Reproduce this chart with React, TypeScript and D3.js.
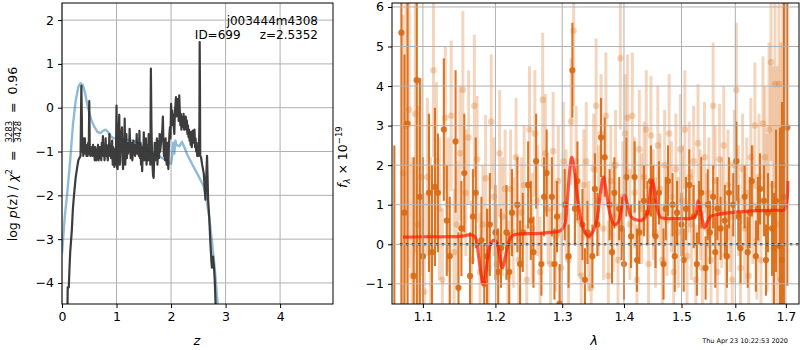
import React, { useEffect, useRef } from "react";
import * as d3 from "d3";

type Pt = [number, number];
type Bar = [number, number, number];

// p(z): [z, log p]
const pzDark: Pt[] = [
  [0.10, -4.6], [0.105, -4.1], [0.125, -4.1], [0.13, -3.9], [0.15, -3.3], [0.18, -2.8], [0.20, -2.3],
  [0.22, -2.0], [0.25, -1.6], [0.28, -1.35], [0.30, -1.2], [0.32, -1.15], [0.34, -1.1], [0.355, 0.5],
  [0.365, -0.3], [0.37, -1.0], [0.38, -0.7], [0.39, -1.1], [0.40, -0.7], [0.41, -0.95], [0.42, -0.7],
  [0.43, -1.05], [0.44, -0.85], [0.45, -1.1], [0.46, -0.95], [0.47, -1.1], [0.48, -0.8], [0.49, -1.05],
  [0.50, 0.15], [0.51, -1.0], [0.52, -1.1], [0.53, -0.9], [0.54, -1.05], [0.55, -1.0], [0.56, -1.1],
  [0.57, -0.85], [0.58, -1.05], [0.59, -0.95], [0.60, -1.2], [0.61, -0.9], [0.62, -1.05], [0.63, -1.2],
  [0.64, -0.95], [0.65, -1.1], [0.66, -0.85], [0.67, -1.2], [0.68, -1.05], [0.69, -0.9], [0.70, -1.15],
  [0.71, -1.0], [0.72, -1.2], [0.73, -0.8], [0.74, -1.0], [0.75, -0.65], [0.76, -1.1], [0.77, -0.9],
  [0.78, -1.2], [0.79, -1.0], [0.80, -0.7], [0.81, -1.1], [0.82, -0.85], [0.83, -1.05], [0.84, -1.2],
  [0.85, -0.9], [0.86, -1.0], [0.87, -0.6], [0.88, -1.1], [0.89, -0.9], [0.90, -1.15], [0.91, -1.0],
  [0.92, -0.75], [0.93, -1.3], [0.94, -0.9], [0.95, -1.15], [0.96, -1.35], [0.97, -0.95], [0.98, -1.3],
  [0.99, -1.0], [1.00, 0.05], [1.01, -1.35], [1.02, -1.4], [1.03, -0.9], [1.05, -0.16], [1.06, -1.3],
  [1.07, -0.8], [1.08, -1.0], [1.09, -0.6], [1.10, -0.45], [1.11, -1.2], [1.12, -1.4], [1.13, -0.9],
  [1.14, -1.1], [1.15, -0.25], [1.16, -1.3], [1.17, -0.9], [1.18, -0.6], [1.19, -1.15], [1.20, -0.8],
  [1.21, -1.05], [1.22, -0.85], [1.23, -1.0], [1.24, -0.48], [1.25, -0.9], [1.26, -1.15], [1.27, -1.0],
  [1.28, -0.8], [1.29, -1.2], [1.30, -1.0], [1.31, -0.75], [1.32, -1.0], [1.33, -0.85], [1.34, -1.1],
  [1.35, -0.9], [1.36, -0.95], [1.37, -0.6], [1.38, -1.05], [1.39, -0.8], [1.40, -0.9], [1.41, -1.1],
  [1.42, -0.53], [1.43, -1.15], [1.44, -0.8], [1.45, -1.3], [1.46, -0.9], [1.47, -1.45], [1.48, -1.0],
  [1.49, -1.2], [1.50, -0.56], [1.51, -1.2], [1.52, -0.9], [1.53, -1.15], [1.54, -0.7], [1.55, -1.3],
  [1.56, -1.0], [1.57, -0.85], [1.58, -1.2], [1.59, -0.6], [1.60, -1.1], [1.61, -0.9], [1.62, -1.3],
  [1.63, 0.89], [1.64, -0.4], [1.65, -1.0], [1.66, -1.3], [1.67, -1.55], [1.68, -1.6], [1.69, -1.2],
  [1.70, -0.8], [1.71, -1.2], [1.72, -0.9], [1.73, -1.1], [1.74, -0.7], [1.75, -1.3], [1.76, -0.95],
  [1.77, -0.75], [1.78, -1.15], [1.79, -0.6], [1.80, -1.0], [1.82, -0.74], [1.84, -0.5], [1.85, -0.2],
  [1.86, -0.8], [1.87, -1.1], [1.88, -0.9], [1.89, -1.2], [1.90, -0.7], [1.91, -1.0], [1.92, -1.3],
  [1.93, -0.8], [1.94, -1.05], [1.95, -1.4], [1.96, -0.9], [1.97, -0.6], [1.98, -0.44], [1.99, -0.7],
  [2.00, 0.09], [2.01, -0.3], [2.02, -0.06], [2.03, -0.4], [2.04, -0.15], [2.05, -0.44], [2.06, -0.6],
  [2.07, -0.1], [2.08, 0.05], [2.09, 0.24], [2.10, -0.2], [2.11, 0.09], [2.12, -0.1], [2.13, 0.2],
  [2.14, -0.3], [2.15, 0.28], [2.16, -0.05], [2.17, -0.4], [2.18, -0.14], [2.19, -0.5], [2.20, -0.2],
  [2.21, -0.44], [2.22, -0.3], [2.23, -0.14], [2.24, -0.5], [2.25, -0.3], [2.26, -0.44], [2.27, -0.2],
  [2.28, -0.5], [2.29, -0.29], [2.30, -0.6], [2.31, -0.4], [2.32, -0.67], [2.33, -0.5], [2.34, -0.75],
  [2.35, -0.6], [2.36, -0.85], [2.37, -0.55], [2.38, -0.9], [2.39, -0.7], [2.40, -0.52], [2.41, -0.8],
  [2.42, -0.67], [2.43, -0.5], [2.44, -0.9], [2.45, -0.7], [2.46, -1.0], [2.47, -0.8], [2.48, -1.1],
  [2.49, -1.0], [2.50, -1.1], [2.51, -1.0], [2.52, -0.4], [2.525, 1.5], [2.53, 0.5], [2.535, -1.1],
  [2.55, -1.13], [2.57, -1.3], [2.60, -1.5], [2.62, -1.9], [2.63, -2.1], [2.645, -1.6], [2.66, -1.1],
  [2.67, -1.6], [2.68, -2.1], [2.70, -2.5], [2.72, -3.05], [2.74, -3.5], [2.75, -3.65], [2.77, -3.4],
  [2.79, -3.7], [2.80, -3.9], [2.82, -4.6],
];

const pzBlue: Pt[] = [
  [0, -3.33], [0.05, -2.5], [0.1, -1.9], [0.15, -1.2], [0.2, -0.4], [0.25, 0.15], [0.3, 0.48],
  [0.34, 0.56], [0.38, 0.52], [0.42, 0.35], [0.46, 0.1], [0.5, -0.12], [0.55, -0.32], [0.6, -0.45],
  [0.65, -0.55], [0.7, -0.58], [0.75, -0.53], [0.8, -0.5], [0.85, -0.56], [0.9, -0.66], [0.95, -0.7],
  [1.0, -0.7], [1.1, -0.71], [1.2, -0.73], [1.3, -0.75], [1.4, -0.8], [1.5, -0.9], [1.6, -0.98],
  [1.7, -1.06], [1.8, -1.12], [1.9, -1.19], [1.98, -1.27], [2.0, -1.28], [2.02, -1.1], [2.04, -0.8],
  [2.06, -1.05], [2.08, -0.75], [2.1, -0.85], [2.15, -0.88], [2.2, -0.78], [2.25, -0.92], [2.3, -1.08],
  [2.4, -1.32], [2.5, -1.55], [2.6, -1.8], [2.65, -2.1], [2.7, -2.5], [2.75, -3.05], [2.8, -3.65],
  [2.85, -4.4], [2.88, -5.0],
];

const xTicksL = [0, 1, 2, 3, 4];
const yTicksL = [-4, -3, -2, -1, 0, 1, 2];

// spectrum: [lambda, flux, err]
const specDark: Bar[] = [
  [1.063, -1.8, 4.3], [1.072, 5.35, 7], [1.076, 0.8, 4], [1.080, 3.05, 7], [1.088, -0.8, 3],
  [1.092, 4.15, 7], [1.096, 1.2, 3], [1.100, -0.3, 2.5], [1.108, 1.3, 2], [1.112, -0.2, 2.2],
  [1.116, 1.45, 2], [1.120, 1.3, 1.5], [1.128, 2.9, 1.8], [1.132, 0.6, 1.4], [1.136, -0.3, 1.5],
  [1.144, 2.6, 1.8], [1.148, -1.1, 1.4], [1.152, 0.4, 1.2], [1.156, 1.8, 1.5], [1.164, -0.8, 1.1],
  [1.168, 0.7, 1.2], [1.172, 1.3, 1.4], [1.180, 0.1, 1.1], [1.184, -1.0, 1.0], [1.188, -0.3, 1.2],
  [1.192, 0.5, 1.3], [1.200, 0.3, 1.2], [1.204, -0.7, 1.1], [1.208, -0.1, 1.0], [1.216, 0.3, 1.2],
  [1.220, -0.7, 1.0], [1.224, 0.8, 1.1], [1.232, 1.0, 1.2], [1.236, -0.5, 1.1], [1.240, 0.3, 1.0],
  [1.248, 1.5, 1.1], [1.252, 0.6, 1.0], [1.256, -0.2, 0.9], [1.260, 2.1, 1.2], [1.268, -0.5, 0.8],
  [1.272, 1.2, 1.0], [1.276, 1.8, 1.1], [1.284, 1.2, 1.0], [1.288, -0.5, 0.9], [1.292, 0.7, 0.9],
  [1.296, -1.5, 1.0], [1.304, 1.0, 0.9], [1.310, -0.3, 0.8], [1.316, 4.4, 1.2], [1.320, 0.9, 0.9],
  [1.324, 1.6, 1.0], [1.332, 0.5, 0.9], [1.336, -0.9, 0.8], [1.340, 0.3, 0.8], [1.348, -0.3, 0.8],
  [1.352, 1.4, 0.9], [1.356, 0.5, 0.8], [1.362, 2.7, 1.0], [1.368, 2.2, 1.0], [1.376, 1.0, 0.9],
  [1.380, -0.2, 0.8], [1.384, 1.3, 0.9], [1.392, 0.9, 0.8], [1.396, 0.4, 0.8], [1.400, -0.5, 0.9],
  [1.404, 1.7, 1.0], [1.412, 0.2, 0.8], [1.418, 1.7, 0.9], [1.422, -0.4, 0.8], [1.426, 0.3, 0.8],
  [1.434, 1.1, 0.9], [1.440, 0.8, 0.8], [1.446, 1.6, 0.9], [1.450, 1.1, 0.9], [1.454, 0.2, 0.8],
  [1.460, 1.3, 0.8], [1.468, -0.5, 0.9], [1.472, 0.9, 0.8], [1.476, 1.6, 0.9], [1.484, 1.0, 0.8],
  [1.488, -0.3, 0.9], [1.492, 0.8, 0.8], [1.500, 0.5, 0.8], [1.504, -0.4, 0.8], [1.508, 0.9, 0.8],
  [1.514, 1.5, 0.9], [1.522, 0.7, 0.8], [1.528, -0.5, 0.8], [1.532, 0.8, 0.8], [1.536, 1.3, 0.9],
  [1.544, -0.6, 0.8], [1.548, 1.0, 0.9], [1.552, 0.3, 0.8], [1.558, 1.2, 0.8], [1.562, -0.2, 0.9],
  [1.566, 0.9, 0.8], [1.572, 0.4, 0.8], [1.580, 0.6, 0.9], [1.584, -0.3, 0.8], [1.588, 1.3, 0.9],
  [1.596, 1.0, 0.8], [1.602, 2.1, 1.0], [1.606, 0.7, 0.8], [1.610, -0.1, 0.9], [1.618, 1.2, 0.8],
  [1.624, -0.2, 0.9], [1.628, 0.8, 0.9], [1.632, 1.6, 0.9], [1.640, -0.3, 0.9], [1.644, 0.9, 0.8],
  [1.648, 1.4, 0.9], [1.656, 1.1, 0.9], [1.660, -0.4, 0.9], [1.664, 0.8, 1.0], [1.672, 0.4, 1.2],
  [1.676, -0.1, 1.4], [1.680, 1.1, 1.8], [1.688, -0.05, 3], [1.692, -0.4, 4], [1.696, 1.2, 5],
  [1.703, 2.95, 4.0],
];

const specLight: Bar[] = [
  [1.074, 1.8, 4], [1.078, 3.0, 4], [1.082, 3.4, 4], [1.086, -0.8, 3], [1.090, 3.3, 3.5],
  [1.094, 0.5, 3], [1.098, 1.7, 2.5], [1.102, -1.2, 2.5], [1.106, 1.7, 2], [1.110, 0.2, 2],
  [1.114, 4.4, 2.2], [1.118, 2.1, 2], [1.122, 0.9, 1.8], [1.126, -0.9, 1.8], [1.130, 3.2, 1.8],
  [1.134, 1.0, 1.7], [1.138, 3.25, 1.9], [1.142, -0.2, 1.6], [1.146, 0.5, 1.6], [1.150, 2.3, 1.7],
  [1.154, 3.9, 2], [1.158, 1.3, 1.6], [1.162, 2.7, 1.7], [1.166, -0.4, 1.5], [1.170, 3.5, 1.8],
  [1.174, 2.15, 1.6], [1.178, -0.7, 1.5], [1.182, 0.5, 1.5], [1.186, 1.67, 1.6], [1.190, -0.6, 1.5],
  [1.194, 3.1, 1.7], [1.198, 1.2, 1.5], [1.202, -0.5, 1.5], [1.206, 2.3, 1.6], [1.210, 0.7, 1.5],
  [1.214, 1.4, 1.5], [1.218, -0.8, 1.4], [1.222, 1.4, 1.5], [1.226, 0.3, 1.4], [1.230, 2.2, 1.5],
  [1.234, -0.4, 1.4], [1.238, 0.8, 1.4], [1.242, 1.5, 1.5], [1.246, -0.9, 1.4], [1.250, 2.9, 1.6],
  [1.254, 0.4, 1.4], [1.258, 2.8, 1.6], [1.262, 1.1, 1.4], [1.266, -0.7, 1.4], [1.270, 3.65, 1.7],
  [1.274, 2.3, 1.5], [1.278, 0.9, 1.4], [1.282, -0.5, 1.4], [1.286, 2.35, 1.5], [1.290, 0.2, 1.4],
  [1.294, 1.6, 1.4], [1.298, -0.6, 1.4], [1.302, 2.1, 1.5], [1.306, 1.0, 1.4], [1.310, -0.4, 1.3],
  [1.314, 3.1, 1.6], [1.318, 5.4, 1.9], [1.322, 2.1, 1.4], [1.326, 0.6, 1.4], [1.330, -0.8, 1.4],
  [1.334, 1.5, 1.4], [1.338, 2.1, 1.5], [1.342, 0.2, 1.4], [1.346, -1.1, 1.4], [1.350, 1.9, 1.4],
  [1.354, 3.5, 1.7], [1.358, 1.1, 1.4], [1.362, 2.8, 1.5], [1.366, 0.4, 1.3], [1.370, 3.25, 1.6],
  [1.374, -0.8, 1.4], [1.378, 1.6, 1.4], [1.382, 0.7, 1.4], [1.386, 2.0, 1.4], [1.390, -0.4, 1.4],
  [1.394, 4.7, 1.8], [1.398, 1.2, 1.4], [1.402, 2.8, 1.5], [1.406, 3.2, 1.6], [1.410, 0.5, 1.4],
  [1.414, 3.25, 1.6], [1.418, 1.3, 1.4], [1.422, -0.9, 1.4], [1.426, 2.4, 1.5], [1.430, 0.9, 1.4],
  [1.434, 1.7, 1.4], [1.438, 2.9, 1.5], [1.442, -0.5, 1.4], [1.446, 2.75, 1.5], [1.450, 1.0, 1.4],
  [1.454, 0.3, 1.4], [1.458, 2.5, 1.5], [1.462, 1.4, 1.4], [1.466, -0.4, 1.4], [1.470, 2.0, 1.4],
  [1.474, 0.6, 1.4], [1.478, 2.8, 1.5], [1.482, 1.2, 1.4], [1.486, -0.7, 1.4], [1.490, 1.9, 1.4],
  [1.494, 0.3, 1.4], [1.498, 2.4, 1.4], [1.502, 1.1, 1.4], [1.506, 2.9, 1.5], [1.510, -0.3, 1.4],
  [1.514, 1.7, 1.4], [1.518, 0.5, 1.4], [1.522, 2.1, 1.4], [1.526, -0.9, 1.4], [1.530, 2.55, 1.5],
  [1.534, 1.0, 1.4], [1.538, -0.6, 1.4], [1.542, 2.2, 1.4], [1.546, 0.4, 1.4], [1.550, 1.3, 1.4],
  [1.554, -0.4, 1.4], [1.558, 3.5, 1.6], [1.562, 1.6, 1.4], [1.566, -0.7, 1.4], [1.570, 2.15, 1.4],
  [1.574, 0.8, 1.4], [1.578, 2.5, 1.5], [1.582, -0.3, 1.4], [1.586, 1.5, 1.4], [1.590, 0.7, 1.4],
  [1.594, -0.9, 1.4], [1.598, 2.0, 1.4], [1.602, 3.9, 1.7], [1.606, 1.1, 1.4], [1.610, -0.6, 1.4],
  [1.614, 1.9, 1.4], [1.618, 0.4, 1.4], [1.622, 1.3, 1.4], [1.626, -0.8, 1.4], [1.630, 2.2, 1.5],
  [1.634, 1.0, 1.5], [1.638, 3.0, 1.6], [1.642, 0.1, 1.5], [1.646, 1.7, 1.6], [1.650, -0.4, 1.6],
  [1.654, 3.05, 1.7], [1.658, 2.2, 1.8], [1.662, 0.8, 2], [1.666, 2.9, 2.2], [1.670, 4.6, 2.5],
  [1.674, 1.5, 3], [1.678, 4.05, 3.5], [1.682, 0.5, 4], [1.686, 4.05, 5], [1.690, -0.9, 6],
  [1.694, 2.0, 7],
];

// best-fit model: [lambda, flux]
const modelFit: Pt[] = [
  [1.074, 0.18], [1.10, 0.19], [1.13, 0.19], [1.15, 0.2], [1.16, 0.23], [1.166, 0.24], [1.172, 0.15],
  [1.176, -0.3], [1.18, -0.8], [1.183, -1.0], [1.187, -0.6], [1.192, -0.05], [1.197, 0.1], [1.202, 0.05],
  [1.206, -0.3], [1.21, -0.6], [1.214, -0.35], [1.219, 0.05], [1.225, 0.22], [1.235, 0.26], [1.26, 0.27],
  [1.28, 0.3], [1.298, 0.35], [1.304, 0.5], [1.308, 1.1], [1.312, 1.9], [1.315, 2.2], [1.319, 1.9],
  [1.324, 1.2], [1.33, 0.6], [1.336, 0.3], [1.342, 0.2], [1.348, 0.3], [1.355, 0.6], [1.361, 1.3],
  [1.366, 1.7], [1.371, 1.3], [1.377, 0.75], [1.384, 0.5], [1.39, 0.55], [1.396, 0.9], [1.401, 1.25],
  [1.406, 1.0], [1.412, 0.7], [1.42, 0.62], [1.432, 0.62], [1.44, 0.8], [1.444, 1.2], [1.448, 1.62],
  [1.452, 1.4], [1.457, 0.9], [1.463, 0.68], [1.475, 0.65], [1.5, 0.65], [1.52, 0.66], [1.526, 0.75],
  [1.53, 1.1], [1.534, 0.9], [1.539, 0.55], [1.542, 0.42], [1.547, 0.55], [1.553, 0.7], [1.565, 0.75],
  [1.59, 0.8], [1.62, 0.83], [1.65, 0.85], [1.68, 0.86], [1.697, 0.87], [1.702, 1.1], [1.704, 1.6],
];

const xTicksR = [1.1, 1.2, 1.3, 1.4, 1.5, 1.6, 1.7];
const yTicksR = [-1, 0, 1, 2, 3, 4, 5, 6];

const FONT = "DejaVu Sans, sans-serif";
const ORANGE = "#d96a14";

const App = () => {
  const ref = useRef<SVGSVGElement>(null);

  useEffect(() => {
    const svg = d3.select(ref.current);
    svg.selectAll("*").remove();
    svg.attr("font-family", FONT);

    const defs = svg.append("defs");
    defs.append("clipPath").attr("id", "clipL").append("rect")
      .attr("x", 62).attr("y", 3).attr("width", 271).attr("height", 301);
    defs.append("clipPath").attr("id", "clipR").append("rect")
      .attr("x", 392).attr("y", 3).attr("width", 407).attr("height", 301);

    // ---------- left: p(z)
    const xL = d3.scaleLinear().domain([0, 4.97]).range([62, 333]);
    const yL = d3.scaleLinear().domain([-4.48, 2.39]).range([304, 3]);

    const gL = svg.append("g");
    gL.selectAll("line.gx").data(xTicksL).join("line")
      .attr("x1", d => xL(d)).attr("x2", d => xL(d)).attr("y1", 3).attr("y2", 304)
      .attr("stroke", "#b0b0b0").attr("stroke-width", 1);
    gL.selectAll("line.gy").data(yTicksL).join("line")
      .attr("x1", 62).attr("x2", 333).attr("y1", d => yL(d)).attr("y2", d => yL(d))
      .attr("stroke", "#b0b0b0").attr("stroke-width", 1);

    const lineL = d3.line<Pt>().x(d => xL(d[0])).y(d => yL(d[1]));
    gL.append("path").datum(pzBlue).attr("d", lineL).attr("clip-path", "url(#clipL)")
      .attr("fill", "none").attr("stroke", "#1f77b4").attr("stroke-opacity", 0.5)
      .attr("stroke-width", 2.4).attr("stroke-linejoin", "round");
    gL.append("path").datum(pzDark).attr("d", lineL).attr("clip-path", "url(#clipL)")
      .attr("fill", "none").attr("stroke", "#333").attr("stroke-opacity", 0.95)
      .attr("stroke-width", 2.2).attr("stroke-linejoin", "round");

    const axL = gL.append("g").attr("transform", "translate(0,304)")
      .call(d3.axisBottom(xL).tickValues(xTicksL).tickSize(4).tickPadding(4).tickFormat(d3.format("d")));
    const ayL = gL.append("g").attr("transform", "translate(62,0)")
      .call(d3.axisLeft(yL).tickValues(yTicksL).tickSize(4).tickPadding(4).tickFormat(d3.format("d")));
    [axL, ayL].forEach(a => {
      a.select(".domain").remove();
      a.attr("font-size", 12.5).attr("font-family", FONT);
      a.selectAll("text").attr("fill", "#000");
    });
    gL.append("rect").attr("x", 62).attr("y", 3).attr("width", 271).attr("height", 301)
      .attr("fill", "none").attr("stroke", "#000").attr("stroke-width", 1);

    gL.append("text").attr("x", 318).attr("y", 25).attr("text-anchor", "end")
      .attr("font-size", 12).text("j003444m4308");
    gL.append("text").attr("x", 318).attr("y", 39).attr("text-anchor", "end")
      .attr("font-size", 12).style("white-space", "pre").text("ID=699     z=2.5352");

    gL.append("text").attr("x", 197).attr("y", 345).attr("text-anchor", "middle")
      .attr("font-size", 13).attr("font-style", "italic").text("z");

    // y label with stacked fraction
    const lab = gL.append("g").attr("transform", "translate(17,0) rotate(-90)");
    const t = lab.append("text").attr("x", -154).attr("y", 0).attr("text-anchor", "middle")
      .attr("font-size", 12.5).style("white-space", "pre");
    t.append("tspan").text("log ");
    t.append("tspan").attr("font-style", "italic").text("p");
    t.append("tspan").text("(z) / ");
    t.append("tspan").attr("font-style", "italic").text("χ");
    t.append("tspan").attr("font-size", 8.5).attr("dy", -5).text("2");
    t.append("tspan").attr("dy", 5).text("  =  ");
    const num = t.append("tspan").attr("font-size", 8.5).attr("dy", -5).text("3283");
    const den = t.append("tspan").attr("font-size", 8.5).attr("dy", 9).text("3428");
    t.append("tspan").attr("dy", -4).text("  =  0.96");
    const numNode = num.node() as SVGTSpanElement;
    const nLen = numNode.getComputedTextLength();
    den.attr("dx", -nLen);
    const nStart = numNode.getStartPositionOfChar(0).x;
    lab.append("line").attr("x1", nStart).attr("x2", nStart + nLen)
      .attr("y1", -3.6).attr("y2", -3.6).attr("stroke", "#000").attr("stroke-width", 0.8);

    // ---------- right: spectrum
    const xR = d3.scaleLog().domain([1.06, 1.727]).range([392, 799]);
    const yR = d3.scaleLinear().domain([-1.51, 6.1]).range([304, 3]);
    const gR = svg.append("g");
    const data = gR.append("g").attr("clip-path", "url(#clipR)");

    const drawBars = (rows: Bar[], w: number, r: number, op: number) => {
      const g = data.append("g");
      g.selectAll("line").data(rows).join("line")
        .attr("x1", d => xR(d[0])).attr("x2", d => xR(d[0]))
        .attr("y1", d => yR(d[1] - d[2])).attr("y2", d => yR(d[1] + d[2]))
        .attr("stroke", ORANGE).attr("stroke-width", w).attr("stroke-opacity", op);
      g.selectAll("circle").data(rows).join("circle")
        .attr("cx", d => xR(d[0])).attr("cy", d => yR(d[1])).attr("r", r)
        .attr("fill", ORANGE).attr("fill-opacity", op);
    };
    drawBars(specLight, 3, 3.3, 0.28);
    drawBars(specDark, 2.1, 3.1, 0.92);

    const lineR = d3.line<Pt>().x(d => xR(d[0])).y(d => yR(d[1])).curve(d3.curveCatmullRom);
    data.append("path").datum(modelFit).attr("d", lineR)
      .attr("fill", "none").attr("stroke", "#ff1a00").attr("stroke-opacity", 0.72)
      .attr("stroke-width", 3.2).attr("stroke-linejoin", "round");
    data.append("line").attr("x1", xR(1.07)).attr("x2", 799).attr("y1", yR(0)).attr("y2", yR(0))
      .attr("stroke", "#000").attr("stroke-width", 2).attr("stroke-dasharray", "2.5,3.5");

    gR.selectAll("line.gx").data(xTicksR).join("line")
      .attr("x1", d => xR(d)).attr("x2", d => xR(d)).attr("y1", 3).attr("y2", 304)
      .attr("stroke", "#b0b0b0").attr("stroke-width", 1);
    gR.selectAll("line.gy").data(yTicksR).join("line")
      .attr("x1", 392).attr("x2", 799).attr("y1", d => yR(d)).attr("y2", d => yR(d))
      .attr("stroke", "#b0b0b0").attr("stroke-width", 1);

    const axR = gR.append("g").attr("transform", "translate(0,304)")
      .call(d3.axisBottom(xR).tickValues(xTicksR).tickSize(4).tickPadding(4).tickFormat(d3.format(".1f")));
    const ayR = gR.append("g").attr("transform", "translate(392,0)")
      .call(d3.axisLeft(yR).tickValues(yTicksR).tickSize(4).tickPadding(4).tickFormat(d3.format("d")));
    [axR, ayR].forEach(a => {
      a.select(".domain").remove();
      a.attr("font-size", 12.5).attr("font-family", FONT);
      a.selectAll("text").attr("fill", "#000");
    });
    gR.append("rect").attr("x", 392).attr("y", 3).attr("width", 407).attr("height", 301)
      .attr("fill", "none").attr("stroke", "#000").attr("stroke-width", 1);

    gR.append("text").attr("x", 594).attr("y", 345).attr("text-anchor", "middle")
      .attr("font-size", 13).attr("font-style", "italic").text("λ");

    const fl = gR.append("text").attr("transform", "translate(347,188) rotate(-90)")
      .attr("font-size", 12.5).style("white-space", "pre");
    fl.append("tspan").attr("font-style", "italic").text("f");
    fl.append("tspan").attr("font-size", 8.5).attr("font-style", "italic").attr("dy", 3).text("λ");
    fl.append("tspan").attr("dy", -3).text(" × 10");
    fl.append("tspan").attr("font-size", 8.5).attr("dy", -5).text("−19");

    svg.append("text").attr("x", 788).attr("y", 343).attr("text-anchor", "end")
      .attr("font-size", 6.5).text("Thu Apr 23 10:22:53 2020");
  }, []);

  return (
    <svg ref={ref} width={800} height={350}
      style={{ position: "absolute", left: 0, top: 0, background: "#fff" }} />
  );
};

export default App;
